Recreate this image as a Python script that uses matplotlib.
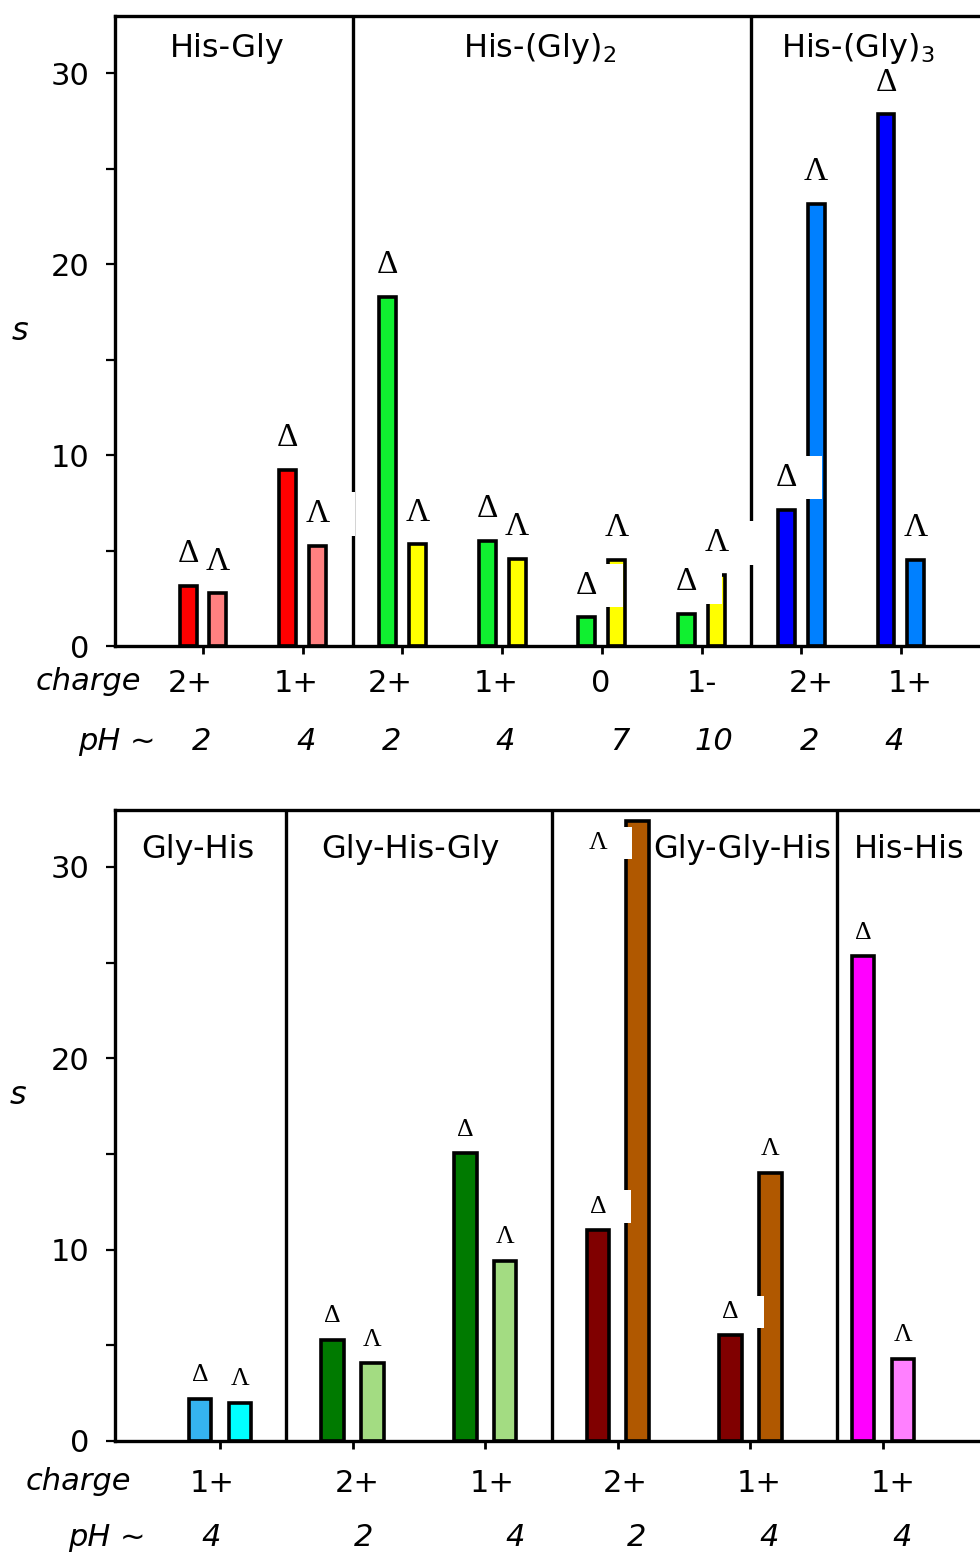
import numpy as np
import matplotlib
matplotlib.use("Agg")
import matplotlib.pyplot as plt
from matplotlib.path import Path
from matplotlib.ticker import MultipleLocator

# ---------------- data ----------------
top_groups = ["His-Gly", "His-(Gly)$_2$", "His-(Gly)$_3$"]
top_charge = ["2+", "1+", "2+", "1+", "0", "1-", "2+", "1+"]
top_ph = ["2", "4", "2", "4", "7", "10", "2", "4"]
top_delta = [3.15, 9.24, 18.3, 5.5, 1.5, 1.7, 7.15, 27.85]
top_lambda = [2.76, 5.23, 5.33, 4.55, 4.5, 3.72, 23.15, 4.5]
top_delta_colors = ["#FF0000", "#FF0000", "#10F030", "#10F030",
                    "#10F030", "#10F030", "#0000FF", "#0000FF"]
top_lambda_colors = ["#FF8080", "#FF8080", "#FFFF00", "#FFFF00",
                     "#FFFF00", "#FFFF00", "#0080FF", "#0080FF"]
top_dividers = [1.5, 5.5]

bot_groups = ["Gly-His", "Gly-His-Gly", "Gly-Gly-His", "His-His"]
bot_charge = ["1+", "2+", "1+", "2+", "1+", "1+"]
bot_ph = ["4", "2", "4", "2", "4", "4"]
bot_delta = [2.2, 5.28, 15.03, 11.02, 5.53, 25.33]
bot_lambda = [2.0, 4.07, 9.41, 32.4, 14.01, 4.30]
bot_delta_colors = ["#35B3F0", "#007A00", "#007A00", "#800000", "#800000", "#FF00FF"]
bot_lambda_colors = ["#00FFFF", "#A3DC82", "#A3DC82", "#B05800", "#B05800", "#FF80FF"]
bot_dividers = [0.5, 2.5, 4.65]

# ---------------- layout ----------------
W, H = 980, 1555
PX = 0.72  # points per pixel at dpi 100
top_group_x = [0.24, 3.38, 6.57]
bot_group_x = [-0.166, 1.44, 3.937, 5.196]
top_charge_dx = [-13, -7, -12, -6, -1, 0, 10, 9]
top_ph_dx = [-1, 3, -11, 3, 18, 12, 8, -7]
bot_charge_dx = [-8, 5, 7, 7, 9, 10]
bot_ph_dx = [-9, 11, 30, 19, 19, 19]

plt.rcParams["font.family"] = ["DejaVu Sans"]
fig = plt.figure(figsize=(W / 100, H / 100), dpi=100)

LW = 2.4
FS = 22


def label_box(x0, y0, width, height, mutation_size):
    right = 25.0  # pixels
    vert = 0.2 * mutation_size
    xa, xb = x0, x0 + width + right
    ya, yb = y0 - vert, y0 + height + vert
    return Path([(xa, ya), (xb, ya), (xb, yb), (xa, yb), (xa, ya)], closed=True)


def panel(rect, xlim, groups, group_x, title_y, charge, ph, charge_dx, ph_dx,
          delta, lam, dcol, lcol, dividers, lab_size, lab_gap,
          charge_dy, ph_dy, row_x, row_y):
    ax = fig.add_axes(rect)
    ymax = 33
    x = np.arange(len(delta))
    off, w = 0.15, 0.17
    ax.bar(x - off, delta, width=w, color=dcol, edgecolor="black",
           linewidth=2.6, zorder=2)
    ax.bar(x + off, lam, width=w, color=lcol, edgecolor="black",
           linewidth=2.6, zorder=2)
    for d in dividers:
        ax.axvline(d, color="black", lw=LW, zorder=2.2)
    ax.set_xlim(*xlim)
    ax.set_ylim(0, ymax)
    for s in ["left", "bottom", "top"]:
        ax.spines[s].set_linewidth(LW)
    ax.spines["right"].set_visible(False)
    ax.set_xticks(x)
    ax.set_xticklabels([])
    ax.tick_params(axis="x", direction="out", length=6, width=2)
    ax.yaxis.set_major_locator(MultipleLocator(10))
    ax.yaxis.set_minor_locator(MultipleLocator(5))
    ax.tick_params(axis="y", which="both", direction="out", length=6.5,
                   width=1.6, labelsize=FS, pad=12)
    # Δ / Λ labels
    zo = 3
    for i in x:
        for val, xp, sym in ((delta[i], i - off, "Δ"), (lam[i], i + off, "Λ")):
            if val + 1.5 > ymax:
                xy, dxy = (xp - 2 * off, val), (0, -24)
            else:
                xy, dxy = (xp, val), (0, lab_gap)
            ax.annotate(sym, xy=xy, xytext=dxy, textcoords="offset points",
                        ha="center", va="bottom", fontsize=lab_size,
                        family=["Liberation Serif", "DejaVu Serif"], zorder=zo,
                        bbox=dict(boxstyle=label_box, fc="white", ec="none"))
            zo += 0.01
    # group titles
    for g, gx in zip(groups, group_x):
        ax.text(gx, title_y, g, ha="center", va="center", fontsize=23,
                zorder=4)
    # charge and pH rows
    for i in x:
        ax.annotate(charge[i], xy=(i, 0), xycoords=("data", "axes fraction"),
                    xytext=(charge_dx[i] * PX, -charge_dy * PX),
                    textcoords="offset points", ha="center", va="center",
                    fontsize=FS, annotation_clip=False)
        ax.annotate(ph[i], xy=(i, 0), xycoords=("data", "axes fraction"),
                    xytext=(ph_dx[i] * PX, -ph_dy * PX),
                    textcoords="offset points", ha="center", va="center",
                    fontsize=FS, style="italic", annotation_clip=False)
    fig.text(row_x[0] / W, 1 - row_y[0] / H, "charge", ha="right", va="center",
             fontsize=FS, style="italic")
    fig.text(row_x[1] / W, 1 - row_y[1] / H, "pH ~", ha="right", va="center",
             fontsize=FS, style="italic")
    return ax


# top panel
panel([115 / W, 1 - 646 / H, 1 - 115 / W, 630 / H],
      (-(203 - 115) / 99.71, (980 - 203) / 99.71),
      top_groups, top_group_x, 31.3,
      top_charge, top_ph, top_charge_dx, top_ph_dx,
      top_delta, top_lambda, top_delta_colors, top_lambda_colors,
      top_dividers, 24, 12, 37, 96, (141, 156), (682, 741))
fig.text(20 / W, 1 - 332 / H, "s", ha="center", va="center", fontsize=23,
         style="italic")

# bottom panel
panel([115 / W, 1 - 1441 / H, 1 - 115 / W, 631.5 / H],
      (-(220 - 115) / 132.6, (980 - 220) / 132.6),
      bot_groups, bot_group_x, 30.9,
      bot_charge, bot_ph, bot_charge_dx, bot_ph_dx,
      bot_delta, bot_lambda, bot_delta_colors, bot_lambda_colors,
      bot_dividers, 18.5, 9, 42, 97, (131, 146), (1482, 1537))
fig.text(18 / W, 1 - 1096 / H, "s", ha="center", va="center", fontsize=23,
         style="italic")

fig.savefig("out.png", dpi=100)
